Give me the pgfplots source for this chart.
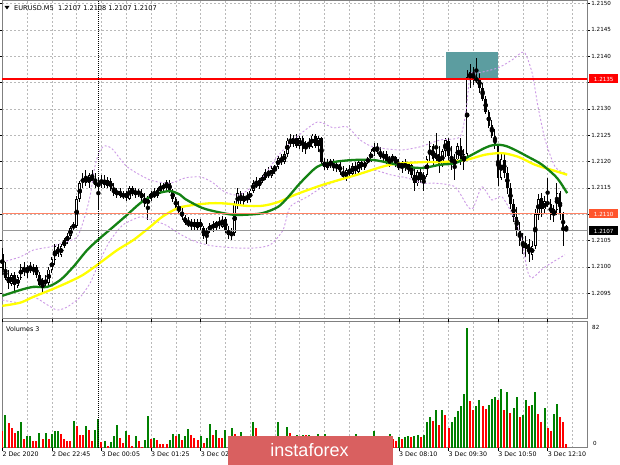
\documentclass[border=0pt]{standalone}
\usepackage{pgfplots}
\pgfplotsset{compat=1.18}
\usepackage{pgfplotstable}
\usepackage{fontspec}
\newfontfamily\dv{DejaVu Sans}
\newfontfamily\lib{Liberation Sans}
\definecolor{magreen}{RGB}{20,130,20}
\definecolor{mayellow}{RGB}{255,255,0}
\definecolor{bband}{RGB}{204,153,230}
\definecolor{tealbox}{RGB}{92,157,160}
\definecolor{salmonline}{RGB}{255,130,100}
\definecolor{salmonbox}{RGB}{255,85,45}
\definecolor{volgreen}{RGB}{0,128,0}
\definecolor{logored}{RGB}{217,96,96}
\definecolor{gridc}{RGB}{185,185,185}
\newcommand{\tk}{\dv\fontsize{5.6bp}{6bp}\selectfont}
\newcommand{\tm}{\dv\fontsize{6.3bp}{7bp}\selectfont}

\pgfplotstableread{
x o h l c
0 1.21025 1.21035 1.20985 1.20995
1 1.20995 1.21010 1.20975 1.20980
2 1.20980 1.20995 1.20960 1.20970
3 1.20970 1.20990 1.20965 1.20985
4 1.20985 1.20990 1.20955 1.20965
5 1.20965 1.20985 1.20960 1.20980
6 1.20980 1.21005 1.20975 1.21000
7 1.21000 1.21010 1.20985 1.20990
8 1.20990 1.21005 1.20980 1.21000
9 1.21000 1.21010 1.20990 1.20995
10 1.20995 1.21005 1.20985 1.21000
11 1.21000 1.21005 1.20980 1.20985
12 1.20985 1.20990 1.20960 1.20965
13 1.20965 1.20980 1.20950 1.20975
14 1.20975 1.20985 1.20960 1.20970
15 1.20970 1.21000 1.20965 1.20995
16 1.20995 1.21020 1.20990 1.21015
17 1.21015 1.21045 1.21005 1.21040
18 1.21040 1.21045 1.21020 1.21025
19 1.21025 1.21045 1.21020 1.21040
20 1.21040 1.21055 1.21035 1.21050
21 1.21050 1.21065 1.21045 1.21060
22 1.21060 1.21080 1.21055 1.21075
23 1.21075 1.21085 1.21070 1.21080
24 1.21080 1.21135 1.21075 1.21130
25 1.21130 1.21165 1.21125 1.21160
26 1.21160 1.21180 1.21150 1.21170
27 1.21170 1.21185 1.21155 1.21160
28 1.21160 1.21180 1.21150 1.21175
29 1.21175 1.21185 1.21160 1.21165
30 1.21165 1.21180 1.21150 1.21155
31 1.21155 1.21170 1.21110 1.21160
32 1.21160 1.21175 1.21150 1.21165
33 1.21165 1.21175 1.21150 1.21155
34 1.21155 1.21170 1.21150 1.21165
35 1.21165 1.21170 1.21145 1.21150
36 1.21150 1.21160 1.21135 1.21140
37 1.21140 1.21150 1.21130 1.21145
38 1.21145 1.21150 1.21130 1.21135
39 1.21135 1.21145 1.21130 1.21140
40 1.21140 1.21145 1.21125 1.21130
41 1.21130 1.21155 1.21128 1.21150
42 1.21150 1.21155 1.21135 1.21140
43 1.21140 1.21150 1.21132 1.21145
44 1.21145 1.21150 1.21135 1.21140
45 1.21140 1.21148 1.21125 1.21130
46 1.21130 1.21140 1.21115 1.21120
47 1.21120 1.21135 1.21090 1.21130
48 1.21130 1.21145 1.21125 1.21140
49 1.21140 1.21150 1.21130 1.21135
50 1.21135 1.21150 1.21130 1.21145
51 1.21145 1.21160 1.21140 1.21155
52 1.21155 1.21160 1.21145 1.21150
53 1.21150 1.21165 1.21145 1.21160
54 1.21160 1.21165 1.21140 1.21145
55 1.21145 1.21150 1.21125 1.21130
56 1.21130 1.21135 1.21110 1.21115
57 1.21115 1.21125 1.21100 1.21105
58 1.21105 1.21115 1.21090 1.21095
59 1.21095 1.21100 1.21080 1.21085
60 1.21085 1.21095 1.21075 1.21080
61 1.21080 1.21090 1.21070 1.21085
62 1.21085 1.21090 1.21070 1.21075
63 1.21075 1.21090 1.21070 1.21085
64 1.21085 1.21090 1.21070 1.21075
65 1.21075 1.21080 1.21055 1.21060
66 1.21060 1.21075 1.21045 1.21070
67 1.21070 1.21085 1.21065 1.21080
68 1.21080 1.21088 1.21068 1.21075
69 1.21075 1.21088 1.21070 1.21085
70 1.21085 1.21095 1.21072 1.21078
71 1.21078 1.21098 1.21075 1.21090
72 1.21090 1.21095 1.21065 1.21070
73 1.21070 1.21080 1.21055 1.21060
74 1.21060 1.21075 1.21052 1.21065
75 1.21065 1.21125 1.21060 1.21120
76 1.21120 1.21150 1.21110 1.21140
77 1.21140 1.21145 1.21120 1.21125
78 1.21125 1.21140 1.21118 1.21135
79 1.21135 1.21142 1.21122 1.21128
80 1.21128 1.21150 1.21125 1.21145
81 1.21145 1.21165 1.21140 1.21160
82 1.21160 1.21170 1.21150 1.21155
83 1.21155 1.21170 1.21148 1.21165
84 1.21165 1.21175 1.21160 1.21170
85 1.21170 1.21185 1.21165 1.21180
86 1.21180 1.21190 1.21170 1.21175
87 1.21175 1.21192 1.21170 1.21188
88 1.21188 1.21195 1.21178 1.21190
89 1.21190 1.21210 1.21185 1.21205
90 1.21205 1.21215 1.21195 1.21200
91 1.21200 1.21220 1.21195 1.21215
92 1.21215 1.21245 1.21210 1.21240
93 1.21240 1.21253 1.21230 1.21235
94 1.21235 1.21252 1.21228 1.21245
95 1.21245 1.21253 1.21225 1.21230
96 1.21230 1.21250 1.21225 1.21245
97 1.21245 1.21250 1.21220 1.21225
98 1.21225 1.21240 1.21215 1.21235
99 1.21235 1.21245 1.21225 1.21230
100 1.21230 1.21253 1.21225 1.21250
101 1.21250 1.21253 1.21225 1.21230
102 1.21230 1.21250 1.21220 1.21245
103 1.21245 1.21248 1.21195 1.21200
104 1.21200 1.21208 1.21185 1.21190
105 1.21190 1.21205 1.21185 1.21200
106 1.21200 1.21206 1.21188 1.21195
107 1.21195 1.21205 1.21182 1.21188
108 1.21188 1.21200 1.21180 1.21195
109 1.21195 1.21200 1.21175 1.21180
110 1.21180 1.21192 1.21165 1.21170
111 1.21170 1.21190 1.21165 1.21185
112 1.21185 1.21195 1.21172 1.21178
113 1.21178 1.21198 1.21175 1.21192
114 1.21192 1.21200 1.21178 1.21182
115 1.21182 1.21205 1.21180 1.21200
116 1.21200 1.21206 1.21185 1.21190
117 1.21190 1.21205 1.21185 1.21200
118 1.21200 1.21210 1.21195 1.21205
119 1.21205 1.21225 1.21200 1.21220
120 1.21220 1.21235 1.21212 1.21228
121 1.21228 1.21235 1.21215 1.21220
122 1.21220 1.21228 1.21205 1.21210
123 1.21210 1.21222 1.21200 1.21215
124 1.21215 1.21220 1.21195 1.21200
125 1.21200 1.21212 1.21192 1.21205
126 1.21205 1.21215 1.21198 1.21210
127 1.21210 1.21212 1.21190 1.21195
128 1.21195 1.21205 1.21185 1.21190
129 1.21190 1.21202 1.21180 1.21198
130 1.21198 1.21205 1.21182 1.21188
131 1.21188 1.21200 1.21178 1.21195
132 1.21195 1.21200 1.21170 1.21175
133 1.21175 1.21190 1.21145 1.21160
134 1.21160 1.21185 1.21155 1.21180
135 1.21180 1.21190 1.21160 1.21165
136 1.21165 1.21180 1.21145 1.21175
137 1.21175 1.21210 1.21170 1.21205
138 1.21205 1.21240 1.21200 1.21230
139 1.21230 1.21235 1.21195 1.21205
140 1.21205 1.21255 1.21200 1.21215
141 1.21215 1.21230 1.21180 1.21195
142 1.21195 1.21225 1.21190 1.21220
143 1.21220 1.21245 1.21210 1.21240
144 1.21240 1.21245 1.21200 1.21210
145 1.21210 1.21230 1.21185 1.21195
146 1.21195 1.21215 1.21165 1.21205
147 1.21205 1.21235 1.21200 1.21230
148 1.21230 1.21245 1.21195 1.21200
149 1.21200 1.21225 1.21185 1.21215
150 1.21215 1.21375 1.21205 1.21360
151 1.21360 1.21385 1.21340 1.21370
152 1.21370 1.21380 1.21345 1.21355
153 1.21355 1.21398 1.21350 1.21360
154 1.21360 1.21368 1.21330 1.21340
155 1.21340 1.21350 1.21315 1.21320
156 1.21320 1.21325 1.21290 1.21295
157 1.21295 1.21300 1.21265 1.21270
158 1.21270 1.21280 1.21245 1.21250
159 1.21250 1.21262 1.21225 1.21230
160 1.21230 1.21235 1.21155 1.21170
161 1.21170 1.21215 1.21165 1.21205
162 1.21205 1.21215 1.21170 1.21180
163 1.21180 1.21190 1.21140 1.21150
164 1.21150 1.21160 1.21110 1.21120
165 1.21120 1.21130 1.21085 1.21095
166 1.21095 1.21115 1.21060 1.21070
167 1.21070 1.21085 1.21040 1.21050
168 1.21050 1.21065 1.21025 1.21035
169 1.21035 1.21060 1.21020 1.21045
170 1.21045 1.21055 1.21010 1.21025
171 1.21025 1.21050 1.21015 1.21040
172 1.21040 1.21110 1.21035 1.21100
173 1.21100 1.21140 1.21090 1.21130
174 1.21130 1.21140 1.21095 1.21110
175 1.21110 1.21135 1.21100 1.21125
176 1.21125 1.21170 1.21115 1.21120
177 1.21120 1.21130 1.21090 1.21100
178 1.21100 1.21118 1.21085 1.21110
179 1.21110 1.21160 1.21100 1.21140
180 1.21140 1.21145 1.21090 1.21100
181 1.21100 1.21105 1.21040 1.21070
182 1.21070 1.21080 1.21068 1.21072
}\candles

\pgfplotstableread{
x p
0 1.20945
5.8 1.20956
10 1.20962
14.5 1.20962
18.7 1.20975
22.9 1.21000
27.4 1.21032
31.6 1.21055
35.8 1.21076
40.3 1.21099
44.5 1.21121
47.7 1.21133
50.3 1.21140
54.2 1.21144
57.4 1.21137
59 1.21129
64.5 1.21112
69.7 1.21104
74.5 1.21099
78.4 1.21099
83.9 1.21102
89 1.21114
92.3 1.21133
96.1 1.21159
101.6 1.21190
106.8 1.21199
113.2 1.21203
119.7 1.21203
125.2 1.21197
130.6 1.21190
135.8 1.21188
141.3 1.21194
146.1 1.21197
150.3 1.21209
155.8 1.21226
159 1.21232
162.3 1.21230
165.5 1.21222
169.7 1.21209
174.2 1.21194
179 1.21169
182.3 1.21140
}\magreen

\pgfplotstableread{
x p
0 1.20926
5.8 1.20932
10 1.20943
15.5 1.20956
21 1.20970
26.1 1.20985
31.6 1.21008
37.1 1.21032
42.3 1.21051
47.7 1.21076
51.6 1.21095
56.8 1.21112
62.3 1.21118
67.7 1.21121
72.9 1.21120
78.4 1.21116
83.9 1.21116
89 1.21123
94.5 1.21137
103.5 1.21156
114.5 1.21175
125.2 1.21194
135.8 1.21199
141.3 1.21199
149.4 1.21203
155.8 1.21213
161.3 1.21216
166.5 1.21209
171.9 1.21194
177.4 1.21184
182.3 1.21175
}\mayellow

\pgfplotstableread{
x p
0 1.21009
5.8 1.21019
10 1.21032
15.5 1.21038
19.7 1.21046
24.2 1.21057
26.8 1.21099
28.4 1.21137
30 1.21194
31.6 1.21222
33.2 1.21230
35.5 1.21224
40.3 1.21190
47.7 1.21165
54.2 1.21159
59 1.21169
63.9 1.21171
67.7 1.21161
71.9 1.21142
76.8 1.21137
83.9 1.21169
88.7 1.21209
93.9 1.21241
101.6 1.21275
106.8 1.21264
111.3 1.21266
115.5 1.21241
119.7 1.21228
128.4 1.21222
134.8 1.21228
141.3 1.21241
147.7 1.21247
149.7 1.21298
151 1.21365
153.5 1.21368
160 1.21378
164.5 1.21393
168.4 1.21408
171 1.21368
172.9 1.21304
175.2 1.21241
178.4 1.21190
181.9 1.21178
}\bbup

\pgfplotstableread{
x p
0 1.20937
5.8 1.20932
10 1.20943
14.5 1.20928
17.7 1.20918
21 1.20924
25.2 1.20943
28.4 1.20970
31.6 1.21013
34.8 1.21050
39 1.21080
44.5 1.21095
47.7 1.21090
52.6 1.21080
57.4 1.21062
62.3 1.21048
67.7 1.21040
75.2 1.21036
81.6 1.21036
86.5 1.21042
90.6 1.21070
92.9 1.21114
98.4 1.21133
103.5 1.21152
109 1.21165
114.5 1.21175
119.7 1.21184
125.2 1.21175
130.6 1.21169
135.8 1.21159
139.7 1.21159
146.1 1.21152
150.3 1.21114
152 1.21112
154.8 1.21152
158 1.21127
161.3 1.21133
165.5 1.21089
167.7 1.21051
169.4 1.20994
171 1.20979
175.2 1.21000
181.6 1.21023
}\bbdn

\pgfplotstableread{
x v g
0 11.4 0
1 22.8 1
2 17 0
3 13.7 0
4 10.2 0
5 11.4 1
6 17.8 1
7 6.4 0
8 8 1
9 8.4 1
10 5 0
11 5 0
12 10.2 1
13 6.2 0
14 10.2 1
15 6.2 0
16 9.6 1
17 11.4 1
18 11.4 1
19 9.8 0
20 6.2 0
21 5 0
22 5 0
23 18.7 1
24 14.8 0
25 9.1 0
26 9.1 0
27 14.8 1
28 12.5 0
29 5 0
30 12.5 1
31 19.8 1
32 3.9 0
33 5 1
34 1.6 0
35 3.9 1
36 8 1
37 15.5 1
38 6.8 0
39 3.4 0
40 11.4 1
41 9.1 0
42 1.6 0
43 8 1
44 5 0
45 0.5 0
46 5.7 1
47 21.6 1
48 6.2 0
49 6.8 1
50 5.7 0
51 2.7 0
52 2.7 0
53 2.7 0
54 5.7 1
55 9.8 1
56 8 0
57 9.8 1
58 5.7 0
59 8 1
60 13.2 1
61 9.1 0
62 6.8 0
63 5.7 0
64 8 1
65 3.4 0
66 6.8 1
67 16.4 1
68 9.1 0
69 12.5 1
70 6.8 0
71 6.8 0
72 12.5 1
73 5 0
74 13.7 1
75 9.6 0
76 6 0
77 11 1
78 7 0
79 5 0
80 8 1
81 17.8 1
82 13.7 0
83 7 0
84 5 0
85 6 1
86 4 0
87 7 1
88 6 0
89 17.8 1
90 8 0
91 6 0
92 14.4 1
93 10.3 0
94 7 0
95 9 1
96 8.5 0
97 9 1
98 8.8 0
99 9 1
100 6 0
101 5 0
102 9.6 1
103 6 0
104 9.6 1
105 5 0
106 4 0
107 6 1
108 4 0
109 5 1
110 3 0
111 6 1
112 4 0
113 5 1
114 9.6 1
115 5 0
116 4 0
117 6 1
118 5 0
119 7 1
120 11.4 1
121 6 0
122 5 0
123 7 1
124 5 0
125 9.6 1
126 6 0
127 5 0
128 7.3 1
129 6.2 0
130 7.3 1
131 8 1
132 7.3 0
133 8.4 1
134 9.1 1
135 7.3 0
136 9.1 1
137 17.5 1
138 21 1
139 18.7 0
140 26.2 1
141 15.5 0
142 26.2 1
143 22.8 0
144 13.7 0
145 17.5 1
146 21 1
147 25 1
148 28.5 1
149 36.9 1
150 82 1
151 31.9 0
152 26.2 0
153 28.5 1
154 32.6 1
155 28.5 0
156 26.7 0
157 29.6 1
158 33.7 1
159 34.6 1
160 33 0
161 40.3 1
162 26.2 0
163 38 1
164 23.9 0
165 27.3 1
166 34.6 1
167 21 0
168 22.8 1
169 33 1
170 28.5 0
171 29.6 1
172 38 1
173 23.2 0
174 17.8 0
175 27.3 1
176 13.7 0
177 11.4 0
178 23.2 1
179 30.3 1
180 21 0
181 17.8 0
182 2.7 0
}\volumes

\begin{document}
\begin{tikzpicture}
\useasboundingbox (0,0) rectangle (620bp,465bp);
\fill[white] (0,0) rectangle (620bp,465bp);

% ---------------- price panel ----------------
\begin{axis}[
  at={(2bp,146bp)}, anchor=south west, scale only axis,
  width=585bp, height=318bp,
  xmin=-0.1, xmax=188.7, ymin=1.20901, ymax=1.21505,
  scaled y ticks=false,
  xtick={8,16,...,184}, xticklabels={}, x tick style={draw=none},
  ytick={1.2095,1.21,1.2105,1.211,1.2115,1.212,1.2125,1.213,1.2135,1.214,1.2145,1.215},
  yticklabels={1.2095,1.2100,1.2105,,1.2115,1.2120,1.2125,1.2130,,1.2140,1.2145,1.2150},
  yticklabel pos=right, tick align=outside, major tick length=3bp,
  y tick style={black, line width=0.6bp},
  yticklabel style={font=\tk, inner sep=1.2bp},
  grid=major, grid style={gridc, line width=0.6bp, dash pattern=on 2bp off 2bp},
  axis line style={draw=gray, line width=1bp},
]
\fill[tealbox] (axis cs:143.1,1.21358) rectangle (axis cs:160.1,1.21408);
% wicks
\addplot[only marks, mark=none, error bars/.cd, y dir=both, y explicit, error mark=none,
  error bar style={black, line width=1bp}]
  table[x=x, y expr={(\thisrow{h}+\thisrow{l})/2}, y error expr={(\thisrow{h}-\thisrow{l})/2}] {\candles};
% bear bodies
\addplot[only marks, mark=none, restrict expr to domain={\thisrow{o}-\thisrow{c}}{0:1},
  error bars/.cd, y dir=both, y explicit, error mark=none,
  error bar style={black, line width=2.5bp}]
  table[x=x, y expr={(\thisrow{o}+\thisrow{c})/2}, y error expr={abs(\thisrow{o}-\thisrow{c})/2}] {\candles};
% bull bodies
\addplot[only marks, mark=none, restrict expr to domain={\thisrow{c}-\thisrow{o}}{0.000001:1},
  error bars/.cd, y dir=both, y explicit, error mark=none,
  error bar style={black, line width=2.6bp}]
  table[x=x, y expr={(\thisrow{o}+\thisrow{c})/2}, y error expr={abs(\thisrow{o}-\thisrow{c})/2+0.000005}] {\candles};
\addplot[only marks, mark=none, restrict expr to domain={\thisrow{c}-\thisrow{o}}{0.00003:1},
  error bars/.cd, y dir=both, y explicit, error mark=none,
  error bar style={white, line width=0.8bp}]
  table[x=x, y expr={(\thisrow{o}+\thisrow{c})/2}, y error expr={abs(\thisrow{o}-\thisrow{c})/2-0.000012}] {\candles};
% Bollinger bands
\addplot[bband, line width=0.9bp, dash pattern=on 2bp off 2bp, smooth, tension=0.4] table[x=x,y=p] {\bbup};
\addplot[bband, line width=0.9bp, dash pattern=on 2bp off 2bp, smooth, tension=0.4] table[x=x,y=p] {\bbdn};
% moving averages
\addplot[mayellow, line width=2.3bp, smooth, tension=0.5] table[x=x,y=p] {\mayellow};
\addplot[magreen, line width=2.3bp, smooth, tension=0.5] table[x=x,y=p] {\magreen};
% horizontal levels
\addplot[red, line width=2.2bp] coordinates {(-1,1.21357) (190,1.21357)};
\addplot[salmonline, line width=1.3bp] coordinates {(-1,1.21101) (190,1.21101)};
\addplot[gray!80, line width=0.6bp] coordinates {(-1,1.21070) (190,1.21070)};
\end{axis}

% ---------------- volume panel ----------------
\begin{axis}[
  at={(2bp,17bp)}, anchor=south west, scale only axis,
  width=585bp, height=126bp,
  xmin=-0.1, xmax=188.7, ymin=0, ymax=86.1,
  ytick=\empty,
  xtick={8,16,...,184}, xticklabels={}, major tick length=0bp,
  xmajorgrids, grid style={gridc, line width=0.6bp, dash pattern=on 2bp off 2bp},
  extra x ticks={0,16,32,48,64,128,144,160,176},
  extra x tick labels={2 Dec 2020,2 Dec 22:45,3 Dec 00:05,3 Dec 01:25,3 Dec 02:45,3 Dec 08:10,3 Dec 09:30,3 Dec 10:50,3 Dec 12:10},
  extra x tick style={grid=none, major tick length=3bp, tick align=outside,
     tick style={black, line width=0.6bp},
     xticklabel style={font=\tm, anchor=north west, inner sep=0.6bp, xshift=-0.6bp}},
  axis line style={draw=gray, line width=1bp},
]
\addplot[volgreen, ycomb, line width=2bp, restrict expr to domain={\thisrow{g}}{0.5:1.5}] table[x=x,y=v] {\volumes};
\addplot[red, ycomb, line width=2bp, restrict expr to domain={\thisrow{g}}{-0.5:0.5}] table[x=x,y=v] {\volumes};
\end{axis}

% day separator
\draw[black, line width=1bp, dash pattern=on 1bp off 1bp] (98.1bp,17bp) -- (98.1bp,464bp);

% header
\fill[black] (4.5bp,459bp) -- (9.5bp,459bp) -- (7bp,455.5bp) -- cycle;
\node[anchor=west, inner sep=0pt, font=\dv\fontsize{6.6bp}{7bp}\selectfont] at (14bp,456.7bp) {EURUSD.M5\ \ 1.2107 1.2108 1.2107 1.2107};
\node[anchor=west, inner sep=0pt, font=\dv\fontsize{6.4bp}{7bp}\selectfont] at (6bp,136bp) {Volumes 3};
\node[anchor=west, inner sep=0pt, font=\tk] at (592bp,138bp) {82};
\node[anchor=west, inner sep=0pt, font=\tk] at (593bp,22bp) {0};

% price boxes
\node[fill=red, text=white, font=\tk, inner sep=0pt, minimum width=29bp, minimum height=9bp, anchor=west] at (589bp,386bp) {1.2135};
\node[fill=salmonbox, text=white, font=\tk, inner sep=0pt, minimum width=29bp, minimum height=9bp, anchor=west] at (589bp,251bp) {1.2110};
\node[fill=black, text=white, font=\tk, inner sep=0pt, minimum width=29bp, minimum height=9bp, anchor=west] at (589bp,234bp) {1.2107};

% logo
\fill[logored] (228bp,0) rectangle (393bp,29bp);
\node[text=white, font=\lib\fontsize{18bp}{18bp}\selectfont, inner sep=0pt] at (309.5bp,15bp) {instaforex};
\end{tikzpicture}
\end{document}
